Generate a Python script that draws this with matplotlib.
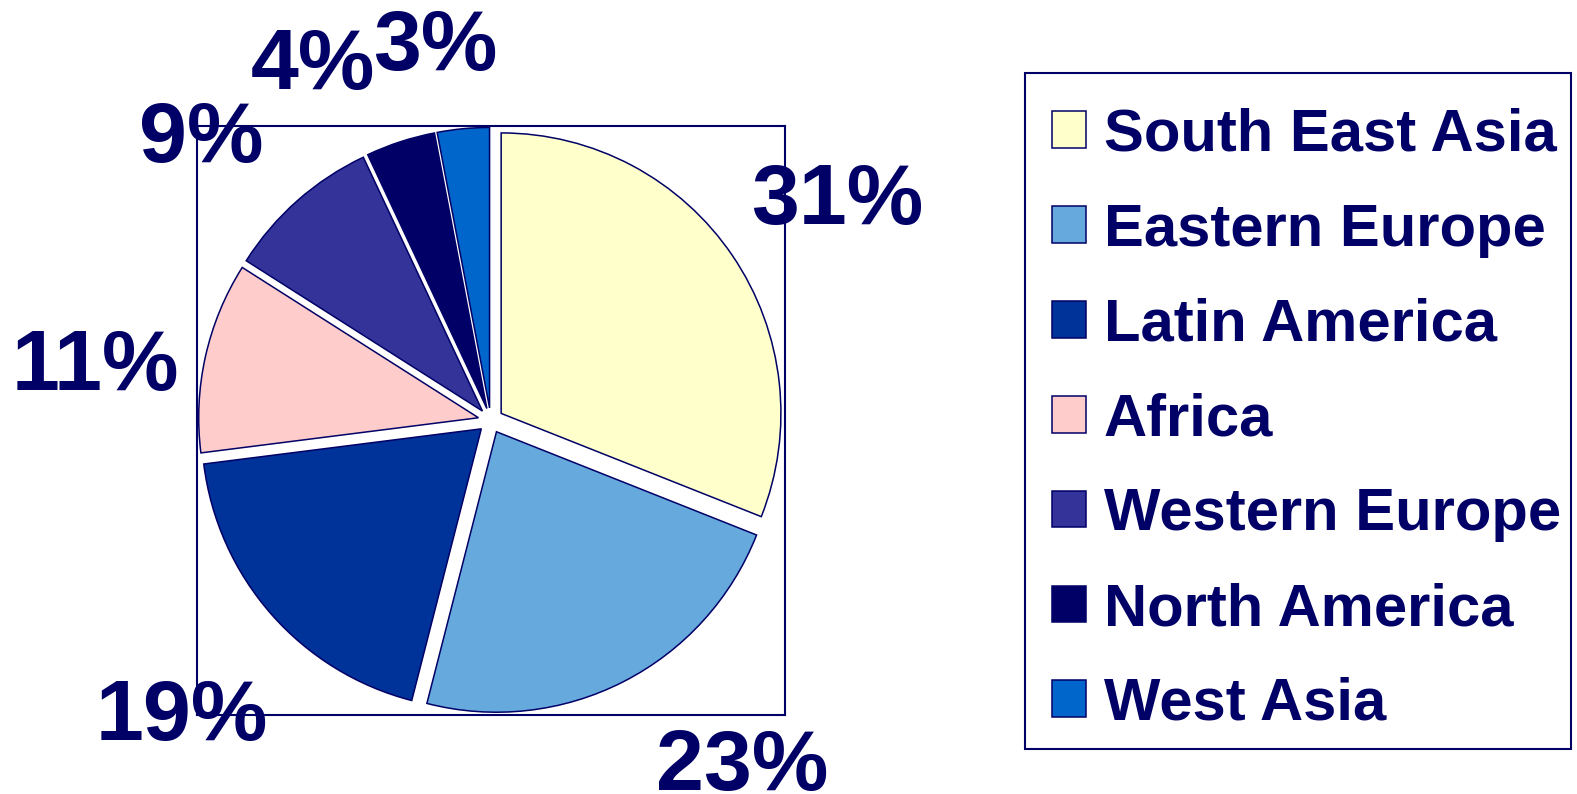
import numpy as np
import matplotlib.pyplot as plt
from matplotlib.patches import Rectangle
from matplotlib.transforms import ScaledTranslation

# data
regions = ['South East Asia', 'Eastern Europe', 'Latin America', 'Africa',
           'Western Europe', 'North America', 'West Asia']
shares = [31, 23, 19, 11, 9, 4, 3]
colors = ['#FFFFCC', '#66AADD', '#003399', '#FFCCCC', '#333399', '#000066', '#0066CC']

# label layout: distance from centre (radius units) and turn off the bisector (deg)
label_dist = [1.478, 1.510, 1.514, 1.428, 1.455, 1.433, 1.367]
label_turn = [-1.2, 9.5, 1.7, 4.0, 3.9, 8.4, 3.0]

NAVY = '#000066'
W, H = 1577, 794
plt.rcParams['font.family'] = ['Liberation Sans', 'DejaVu Sans']
plt.rcParams['font.weight'] = 'bold'

fig = plt.figure(figsize=(W / 100, H / 100), dpi=100)
ax = fig.add_axes([197 / W, 1 - 715 / H, 587.5 / W, 589 / H])

wedges, texts, autotexts = ax.pie(
    shares, colors=colors, explode=[0.045] * len(shares), startangle=90,
    counterclock=False, autopct='%1.0f%%', frame=True,
    wedgeprops=dict(edgecolor=NAVY, linewidth=1.1),
    textprops=dict(color=NAVY, fontsize=62, fontweight='bold'))

shift = ScaledTranslation(0, -0.07, fig.dpi_scale_trans)
for w, t, d, turn in zip(wedges, autotexts, label_dist, label_turn):
    a = np.deg2rad((w.theta1 + w.theta2) / 2 + turn)
    t.set_position((d * np.cos(a), d * np.sin(a)))
    t.set_transform(ax.transData + shift)
    t.set_va('center')
    t.set_ha('center')

ax.set_xlim(-1.05, 1.05)
ax.set_ylim(-1.05, 1.05)
ax.set_aspect('auto')
ax.set_xticks([])
ax.set_yticks([])
for s in ax.spines.values():
    s.set_edgecolor(NAVY)
    s.set_linewidth(1.5)

# legend box
fig.patches.append(Rectangle((1025 / W, 1 - 749 / H), 546 / W, 676 / H,
                             transform=fig.transFigure, fill=False,
                             edgecolor=NAVY, linewidth=1.5))
leg = fig.legend(wedges, regions, loc='upper left',
                 bbox_to_anchor=(1025 / W, 1 - 81 / H),
                 prop=dict(size=43, weight='bold'),
                 handlelength=0.57, handleheight=0.57, handletextpad=0.3,
                 labelspacing=0.667, borderpad=0.45, borderaxespad=0,
                 frameon=False)
for t in leg.get_texts():
    t.set_color(NAVY)

fig.savefig('out.png', dpi=100)
